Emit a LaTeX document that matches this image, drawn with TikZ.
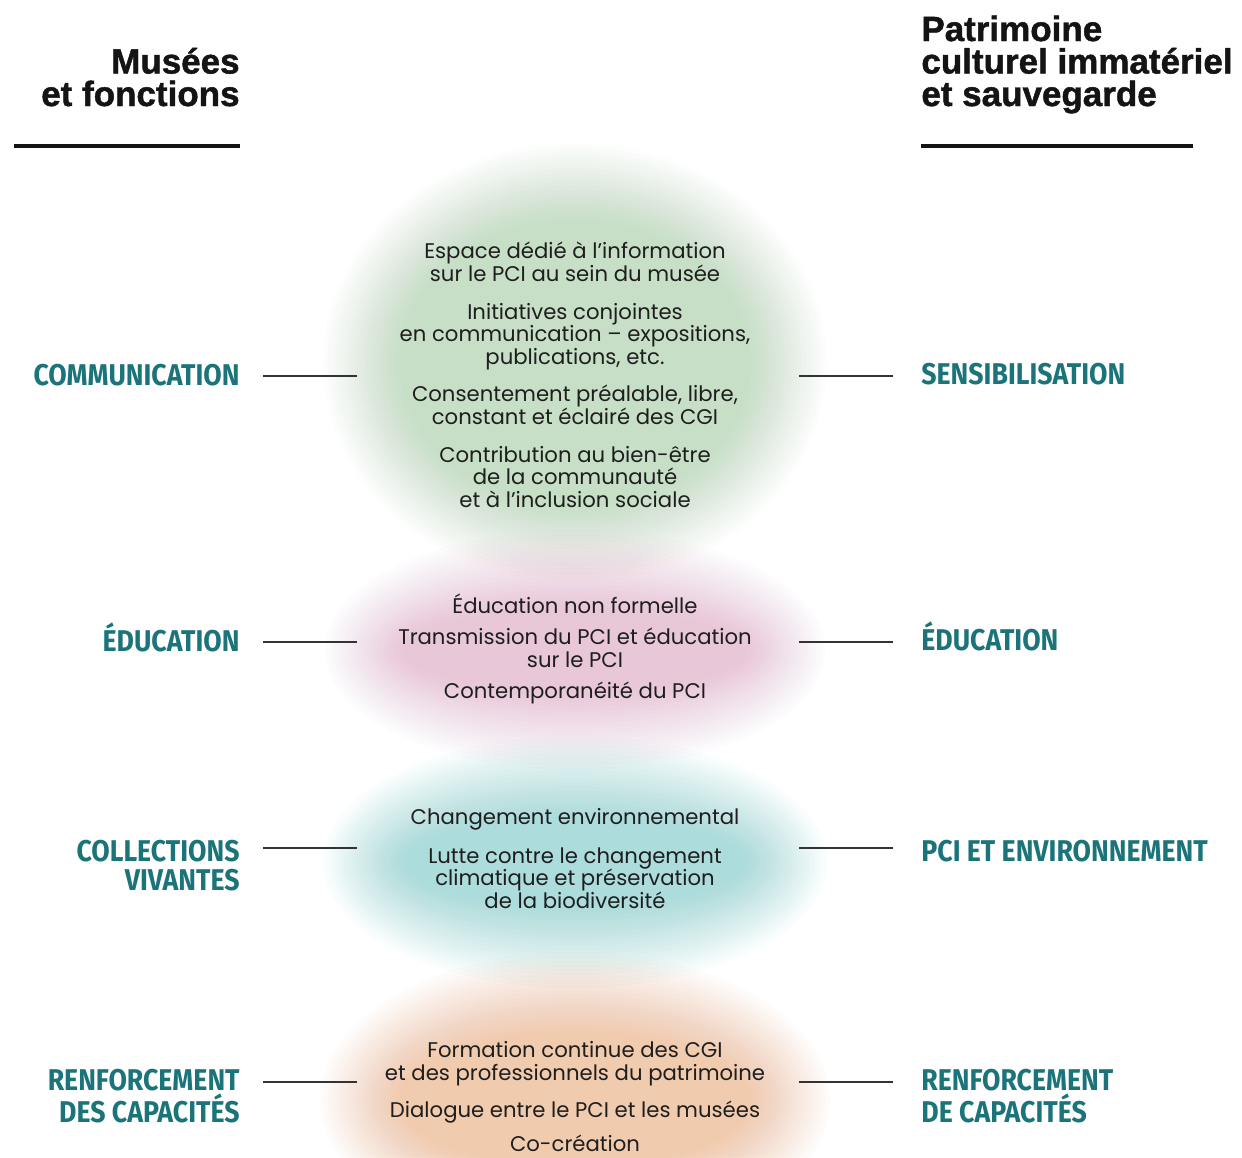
\documentclass[tikz,border=0pt]{standalone}
\usepackage{fontspec}
\setmainfont{Poppins}
\newfontfamily\headfont{Liberation Sans}[BoldFeatures={FakeBold=1.3}]
\newfontfamily\labelfont{Fira Sans}[FakeStretch=0.89]

\definecolor{headblack}{HTML}{141414}
\definecolor{bodyblack}{HTML}{1E1E1E}
\definecolor{catteal}{HTML}{1B7479}
\definecolor{linegray}{HTML}{333333}
\definecolor{blobgreen}{HTML}{C6DFC6}
\definecolor{blobpink}{HTML}{E8C7D9}
\definecolor{blobcyan}{HTML}{ACDDDC}
\definecolor{bloborange}{HTML}{F1CBAE}

\tikzset{
  heading/.style={font=\headfont\bfseries\fontsize{17.5}{16.25}\selectfont, text=headblack, inner sep=0},
  catleft/.style={font=\labelfont\bfseries\fontsize{15}{14.5}\selectfont, text=catteal, inner sep=0, align=right, anchor=base east},
  catright/.style={font=\labelfont\bfseries\fontsize{15}{14.5}\selectfont, text=catteal, inner sep=0, align=left, anchor=base west},
  body/.style={font=\fontsize{10.6}{11.25}\selectfont, text=bodyblack, inner sep=0, align=center, anchor=base},
  link/.style={draw=linegray, line width=0.6pt},
  headrule/.style={draw=headblack, line width=2pt},
}

% soft coloured blob: stacked ellipses giving a linear fade over 80 units
% #1 colour, #2 centre x, #3 centre y, #4 half-width, #5 half-height (at mid-fade)
\newcommand\softblob[5]{%
  \foreach \k in {1,...,20}{%
    \pgfmathsetmacro\layeralpha{1/(21-\k)}%
    \pgfmathsetmacro\layerpad{40-80*(\k-1)/19}%
    \fill[#1, opacity=\layeralpha] (#2,#3) ellipse [x radius=#4+\layerpad, y radius=#5+\layerpad];
  }%
}

\begin{document}
\begin{tikzpicture}[x=0.5pt, y=-0.5pt]
  \path[use as bounding box, fill=white] (0,0) rectangle (1242,1157);

  % background blobs
  \softblob{blobgreen}{575}{363}{212}{180}
  \softblob{blobpink}{575}{650}{210}{80}
  \softblob{blobcyan}{575}{862}{212}{86}
  \softblob{bloborange}{575}{1100}{215}{108}

  % column headings (anchored on the last line)
  \node[heading, align=right, anchor=base east] (headL) at (240,106) {Musées\\et fonctions};
  \node[heading, align=left, anchor=base west] (headR) at (921,106) {Patrimoine\\culturel immatériel\\et sauvegarde};
  \coordinate (ruleLa) at (14,146);  \coordinate (ruleLb) at (240,146);
  \coordinate (ruleRa) at (921,146); \coordinate (ruleRb) at (1193,146);
  \draw[headrule] (ruleLa) -- (ruleLb);
  \draw[headrule] (ruleRa) -- (ruleRb);

  % museum functions (left)
  \node[catleft] (fComm) at (240,385) {COMMUNICATION};
  \node[catleft] (fEduc) at (240,651) {ÉDUCATION};
  \node[catleft] (fColl) at (240,890) {COLLECTIONS\\VIVANTES};
  \node[catleft] (fRenf) at (240,1122) {RENFORCEMENT\\DES CAPACITÉS};

  % safeguarding themes (right)
  \node[catright] (sSens) at (921,384) {SENSIBILISATION};
  \node[catright] (sEduc) at (921,650) {ÉDUCATION};
  \node[catright] (sEnv)  at (921,861) {PCI ET ENVIRONNEMENT};
  \node[catright] (sRenf) at (921,1122) {RENFORCEMENT\\DE CAPACITÉS};

  % shared actions (anchored on the last line of each item)
  \node[body] (a1) at (575,281) {Espace dédié à l’information\\sur le PCI au sein du musée};
  \node[body] (a2) at (575,364) {Initiatives conjointes\\en communication – expositions,\\publications, etc.};
  \node[body] (a3) at (575,424) {Consentement préalable, libre,\\constant et éclairé des CGI};
  \node[body] (a4) at (575,507) {Contribution au bien-être\\de la communauté\\et à l'inclusion sociale};

  \node[body] (b1) at (575,613) {Éducation non formelle};
  \node[body] (b2) at (575,667) {Transmission du PCI et éducation\\sur le PCI};
  \node[body] (b3) at (575,698) {Contemporanéité du PCI};

  \node[body] (c1) at (575,824) {Changement environnemental};
  \node[body] (c2) at (575,908) {Lutte contre le changement\\climatique et préservation\\de la biodiversité};

  \node[body] (d1) at (575,1080) {Formation continue des CGI\\et des professionnels du patrimoine};
  \node[body] (d2) at (575,1117) {Dialogue entre le PCI et les musées};
  \node[body] (d3) at (575,1151) {Co-création};

  % connectors
  \foreach \row/\yy in {1/376, 2/642, 3/848, 4/1082}{
    \coordinate (linkL\row a) at (263,\yy);
    \coordinate (linkL\row b) at (357,\yy);
    \coordinate (linkR\row a) at (799,\yy);
    \coordinate (linkR\row b) at (893,\yy);
    \draw[link] (linkL\row a) -- (linkL\row b);
    \draw[link] (linkR\row a) -- (linkR\row b);
  }
\end{tikzpicture}
\end{document}
